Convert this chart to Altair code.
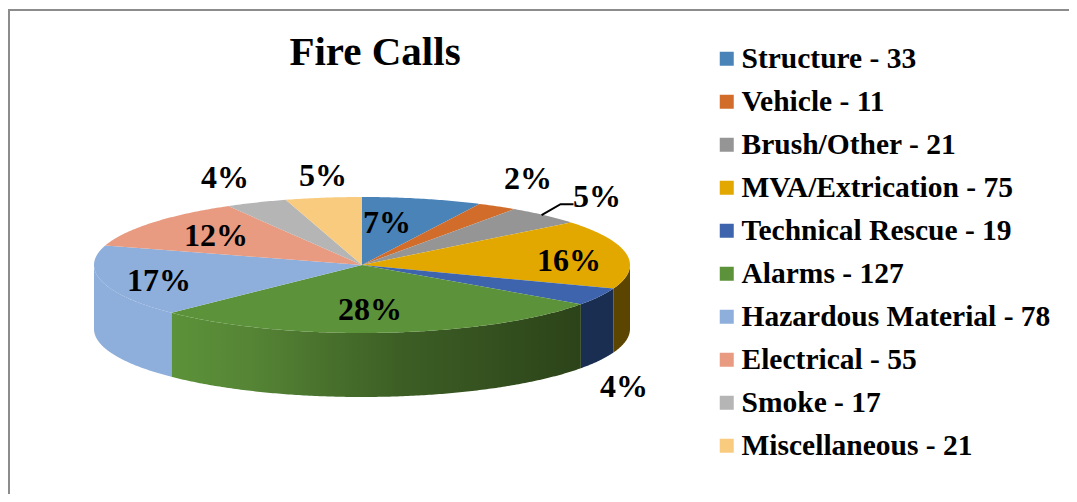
import math
import altair as alt
import pandas as pd

# ---- data ----
categories = ["Structure", "Vehicle", "Brush/Other", "MVA/Extrication", "Technical Rescue",
              "Alarms", "Hazardous Material", "Electrical", "Smoke", "Miscellaneous"]
calls = [33, 11, 21, 75, 19, 127, 78, 55, 17, 21]
percents = ["7%", "2%", "5%", "16%", "4%", "28%", "17%", "12%", "4%", "5%"]
top_colors = ["#4a83b8", "#d26c2b", "#959595", "#e2a800", "#3d64ad",
              "#5c9239", "#8eaedb", "#e89b80", "#b5b5b5", "#f8cb7e"]
wall_colors = {"MVA/Extrication": "#5c4500", "Technical Rescue": "#1a2e52",
               "Hazardous Material": "#8eaedb"}
label_x = [379, 520, 589, 561, 616, 362, 151, 208, 217, 315]
label_y = [215, 171, 189, 253, 379, 302, 273, 228, 170, 168]

# ---- layout ----
W, H = 1061, 486
CX, CY, RX, RY, DEPTH = 354, 257, 268, 68, 64
legend_names = [f"{c} - {v}" for c, v in zip(categories, calls)]
total = sum(calls)


def pt(a, dy=0):
    return [CX + RX * math.sin(a), CY - RY * math.cos(a) + dy]


def arc(a0, a1, dy=0):
    n = max(2, int(abs(a1 - a0) / 0.01))
    return [pt(a0 + (a1 - a0) * i / n, dy) for i in range(n + 1)]


edges = [0.0]
for v in calls:
    edges.append(edges[-1] + v / total * 2 * math.pi)


def feature(ring, **props):
    return {"type": "Feature", "properties": props,
            "geometry": {"type": "Polygon", "coordinates": [ring + [ring[0]]]}}


tops, flat_walls, green_wall = [], [], []
for i, name in enumerate(categories):
    a0, a1 = edges[i], edges[i + 1]
    tops.append(feature([[CX, CY]] + arc(a0, a1), name=legend_names[i], order=i))
    lo, hi = max(a0, math.pi / 2), min(a1, 3 * math.pi / 2)
    if lo < hi:
        ring = arc(lo, hi) + arc(hi, lo, DEPTH)
        if name == "Alarms":
            green_wall.append(feature(ring, name=name))
        else:
            flat_walls.append(feature(ring, wall=wall_colors[name]))

proj = dict(type="identity", scale=1, translate=[0, 0])

wall_flat = (alt.Chart(alt.InlineData(values=flat_walls)).mark_geoshape(strokeWidth=0)
             .encode(fill=alt.Fill("properties.wall:N", scale=None, legend=None))
             .project(**proj))
wall_green = (alt.Chart(alt.InlineData(values=green_wall))
              .mark_geoshape(strokeWidth=0, fill=alt.Gradient(
                  gradient="linear", x1=0, x2=1, y1=0, y2=0,
                  stops=[alt.GradientStop(offset=0, color="#5c9239"),
                         alt.GradientStop(offset=0.2, color="#558435"),
                         alt.GradientStop(offset=0.55, color="#3d5f25"),
                         alt.GradientStop(offset=1, color="#2c4319")]))
              .project(**proj))
top = (alt.Chart(alt.InlineData(values=tops)).mark_geoshape(strokeWidth=0)
       .encode(fill=alt.Fill(
           "properties.name:N",
           scale=alt.Scale(domain=legend_names, range=top_colors),
           sort=None,
           legend=alt.Legend(
               title=None, orient="none", legendX=704, legendY=36,
               symbolType="square", symbolSize=196, symbolStrokeWidth=0,
               labelFont="Liberation Serif", labelFontWeight="bold", labelFontSize=29.5,
               labelColor="black", labelLimit=400, labelOffset=0, rowPadding=12,
               values=legend_names)))
       .project(**proj))

labels_df = pd.DataFrame({"t": percents, "x": label_x, "y": label_y})
labels = (alt.Chart(labels_df)
          .mark_text(font="Liberation Serif", fontWeight="bold", fontSize=32, color="black",
                     baseline="middle", align="center")
          .encode(x=alt.X("x:Q", scale=None, axis=None),
                  y=alt.Y("y:Q", scale=None, axis=None),
                  text="t:N"))

brush_mid = (edges[2] + edges[3]) / 2
start = pt(brush_mid)
leader_df = pd.DataFrame({"x": [start[0] - 3, start[0] + 16, start[0] + 29],
                          "y": [start[1], start[1] - 11, start[1] - 11],
                          "o": [0, 1, 2]})
leader = (alt.Chart(leader_df).mark_line(color="black", strokeWidth=2)
          .encode(x=alt.X("x:Q", scale=None, axis=None),
                  y=alt.Y("y:Q", scale=None, axis=None),
                  order="o:Q"))

title_df = pd.DataFrame({"t": ["Fire Calls"]})
title = (alt.Chart(title_df)
         .mark_text(font="Liberation Serif", fontWeight="bold", fontSize=41, color="black",
                    baseline="middle", align="center")
         .encode(x=alt.value(367), y=alt.value(45), text="t:N"))

border_c = "#8c8c8c"
border_left = (alt.Chart(title_df).mark_rule(color=border_c, strokeWidth=2)
               .encode(x=alt.value(1), y=alt.value(2), y2=alt.value(H)))
border_top = (alt.Chart(title_df).mark_rule(color=border_c, strokeWidth=2)
              .encode(y=alt.value(2), x=alt.value(0), x2=alt.value(W)))

chart = (alt.layer(border_left, border_top, wall_flat, wall_green, top, labels, leader, title)
         .resolve_scale(fill="independent")
         .properties(width=W, height=H, padding=0,
                     autosize=alt.AutoSizeParams(type="none"), background="white")
         .configure_view(stroke=None))

chart.save("out.html", embed_options={"renderer": "svg", "actions": False})
